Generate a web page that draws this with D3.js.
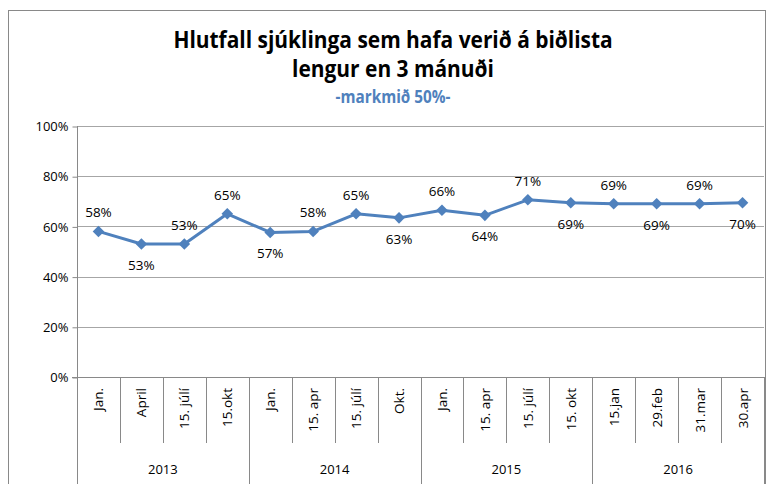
<!DOCTYPE html>
<html>
<head>
<meta charset="utf-8">
<script src="https://cdn.jsdelivr.net/npm/d3@7"></script>
<style>
  body { margin: 0; background: #fff; }
  text { font-family: "Open Sans", sans-serif; }
</style>
</head>
<body>
<svg id="chart"></svg>
<script>
const months = ["Jan.", "April", "15. júlí", "15.okt", "Jan.", "15. apr", "15. júlí", "Okt.",
  "Jan.", "15. apr", "15. júlí", "15. okt", "15.jan", "29.feb", "31.mar", "30.apr"];
const years = ["2013", "2014", "2015", "2016"];
const values = [58, 53, 53, 65, 57.6, 58, 65, 63.4, 66.4, 64.4, 70.6, 69.4, 69, 69, 69, 69.4];
const labels = ["58%", "53%", "53%", "65%", "57%", "58%", "65%", "63%", "66%", "64%", "71%", "69%", "69%", "69%", "69%", "70%"];
const labelAbove = [true, false, true, true, false, true, true, false, true, false, true, false, true, false, true, false];
const yTicks = [0, 20, 40, 60, 80, 100];

const width = 767;
const height = 484;
const blue = "#4f81bd";

const svg = d3.select("#chart").attr("width", width).attr("height", height);

// chart border
svg.append("rect")
  .attr("x", 8.5).attr("y", 10.5)
  .attr("width", 757).attr("height", 490)
  .attr("fill", "none").attr("stroke", "#898989");

// titles, squeezed a bit to look like a condensed face
function title(txt, yPos, size, sx, color) {
  svg.append("text")
    .attr("transform", `translate(393,${yPos}) scale(${sx},1)`)
    .attr("text-anchor", "middle").attr("font-size", size).attr("font-weight", "bold")
    .attr("fill", color)
    .text(txt);
}
title("Hlutfall sjúklinga sem hafa verið á biðlista", 48, 23, 0.91, "#000");
title("lengur en 3 mánuði", 77, 23, 0.91, "#000");
title("-markmið 50%-", 103, 17, 0.9, blue);

const x = d3.scaleBand().domain(d3.range(months.length)).range([77, 764]);
const y = d3.scaleLinear().domain([0, 100]).range([377, 126]);

// gridlines
svg.append("g").selectAll("line").data(yTicks.slice(1)).enter().append("line")
  .attr("x1", 77).attr("x2", 764)
  .attr("y1", (d) => Math.round(y(d)) + 0.5).attr("y2", (d) => Math.round(y(d)) + 0.5)
  .attr("stroke", "#a6a6a6");

// y axis
const yAxis = svg.append("g").attr("transform", "translate(77.5,0.5)")
  .call(d3.axisLeft(y).tickValues(yTicks).tickSize(5).tickPadding(4).tickFormat((d) => d + "%"));
yAxis.select(".domain").remove();
yAxis.selectAll("line").attr("stroke", "#898989");
yAxis.selectAll("text").attr("font-size", 13).attr("fill", "#000")
  .style("font-family", "'Open Sans', sans-serif");

svg.append("line").attr("x1", 77.5).attr("x2", 77.5).attr("y1", 126).attr("y2", height)
  .attr("stroke", "#898989");
svg.append("line").attr("x1", 72).attr("x2", 764).attr("y1", 377.5).attr("y2", 377.5)
  .attr("stroke", "#898989");

// category separators
const bounds = d3.range(1, months.length + 1);
svg.append("g").selectAll("line").data(bounds).enter().append("line")
  .attr("x1", (i) => Math.round(x(i - 1) + x.bandwidth()) + 0.5)
  .attr("x2", (i) => Math.round(x(i - 1) + x.bandwidth()) + 0.5)
  .attr("y1", 377)
  .attr("y2", (i) => (i % 4 === 0 ? height : 443))
  .attr("stroke", "#898989");

// month labels
svg.append("g").selectAll("text").data(months).enter().append("text")
  .attr("transform", (d, i) => `translate(${x(i) + x.bandwidth() / 2 + 5},388) rotate(-90)`)
  .attr("text-anchor", "end").attr("font-size", 13.5)
  .text((d) => d);

// year labels
svg.append("g").selectAll("text").data(years).enter().append("text")
  .attr("x", (d, i) => x(i * 4) + x.bandwidth() * 2)
  .attr("y", 474).attr("text-anchor", "middle").attr("font-size", 13)
  .text((d) => d);

// line
const line = d3.line().x((d, i) => x(i) + x.bandwidth() / 2).y((d) => y(d));
svg.append("path").datum(values).attr("d", line)
  .attr("fill", "none").attr("stroke", blue).attr("stroke-width", 3)
  .attr("stroke-linejoin", "round");

svg.append("g").selectAll("path").data(values).enter().append("path")
  .attr("d", d3.symbol(d3.symbolDiamond2, 85))
  .attr("transform", (d, i) => `translate(${x(i) + x.bandwidth() / 2},${y(d)})`)
  .attr("fill", blue);

// data labels
svg.append("g").selectAll("text").data(values).enter().append("text")
  .attr("x", (d, i) => x(i) + x.bandwidth() / 2)
  .attr("y", (d, i) => y(d) + (labelAbove[i] ? -14 : 26))
  .attr("text-anchor", "middle").attr("font-size", 13.5)
  .text((d, i) => labels[i]);
</script>
</body>
</html>
